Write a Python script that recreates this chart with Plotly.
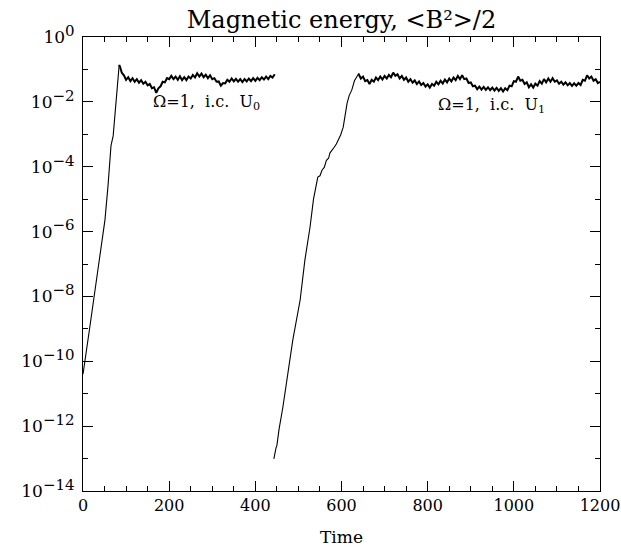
import numpy as np
import plotly.graph_objects as go

# ---------------- data (log10 of magnetic energy) ----------------
u0_time = [0, 3, 5, 15, 25, 35, 45, 51, 58, 65, 70, 75, 79, 82, 84, 86, 90,
           95, 100, 105, 110, 115, 120, 125, 130, 135, 140, 145, 150, 155, 160,
           165, 170, 175, 180, 185, 190, 195, 200, 205, 210, 215, 220, 225, 230,
           235, 240, 245, 250, 255, 260, 265, 270, 275, 280, 285, 290, 295, 300,
           305, 310, 315, 320, 325, 330, 335, 340, 345, 350, 355, 360, 365, 370,
           375, 380, 385, 390, 395, 400, 405, 410, 415, 420, 425, 430, 435, 440, 445]
u0_logE = [-10.4, -10.1, -9.96, -9.02, -8.08, -7.12, -6.2, -5.64, -4.6, -3.35, -3.05,
           -2.3, -1.63, -1.1, -0.86, -0.92, -1.1,
           -1.18, -1.32, -1.24, -1.36, -1.27, -1.38, -1.30, -1.41, -1.33, -1.44,
           -1.38, -1.49, -1.45, -1.58, -1.55, -1.72, -1.58, -1.52, -1.38, -1.40,
           -1.27, -1.30, -1.20, -1.30, -1.22, -1.32, -1.21, -1.33, -1.24, -1.33,
           -1.22, -1.28, -1.17, -1.25, -1.12, -1.22, -1.13, -1.24, -1.16, -1.27,
           -1.18, -1.30, -1.27, -1.38, -1.37, -1.50, -1.42, -1.43, -1.32, -1.38,
           -1.28, -1.37, -1.29, -1.38, -1.30, -1.39, -1.30, -1.37, -1.28, -1.36,
           -1.27, -1.35, -1.26, -1.33, -1.24, -1.31, -1.22, -1.30, -1.20, -1.25, -1.15]

u1_time = [443, 446, 448, 450, 455, 464, 475, 487, 504, 515, 527, 535, 545, 550,
           555, 560, 565, 570, 573, 578, 583, 588, 592, 598, 604, 608, 613, 618,
           624, 630, 634, 638,
           640, 645, 650, 655, 660, 665, 670, 675, 680, 685, 690, 695, 700, 705,
           710, 715, 720, 725, 730, 735, 740, 745, 750, 755, 760, 765, 770, 775,
           780, 785, 790, 795, 800, 805, 810, 815, 820, 825, 830, 835, 840, 845,
           850, 855, 860, 865, 870, 875, 880, 885, 890, 895, 900, 905, 910, 915,
           920, 925, 930, 935, 940, 945, 950, 955, 960, 965, 970, 975, 980, 985,
           990, 995, 1000, 1005, 1010, 1015, 1020, 1025, 1030, 1035, 1040, 1045,
           1050, 1055, 1060, 1065, 1070, 1075, 1080, 1085, 1090, 1095, 1100, 1105,
           1110, 1115, 1120, 1125, 1130, 1135, 1140, 1145, 1150, 1155, 1160, 1165,
           1170, 1175, 1180, 1185, 1190, 1195, 1200]
u1_logE = [-13.01, -12.75, -12.67, -12.6, -12.1, -11.41, -10.4, -9.34, -8.11, -6.88,
           -5.86, -5.0, -4.32, -4.28, -4.10, -4.02, -3.80, -3.74, -3.58, -3.50,
           -3.40, -3.30, -3.18, -3.02, -2.78, -2.4, -2.04, -1.8, -1.63, -1.35, -1.26, -1.17,
           -1.15, -1.28, -1.22, -1.36, -1.33, -1.45, -1.32, -1.38, -1.25, -1.33,
           -1.22, -1.31, -1.20, -1.28, -1.17, -1.24, -1.10, -1.20, -1.15, -1.28,
           -1.20, -1.32, -1.25, -1.38, -1.30, -1.41, -1.34, -1.45, -1.37, -1.48,
           -1.42, -1.53, -1.46, -1.56, -1.45, -1.50, -1.38, -1.46, -1.35, -1.43,
           -1.31, -1.40, -1.28, -1.37, -1.25, -1.33, -1.20, -1.30, -1.18, -1.30,
           -1.28, -1.42, -1.40, -1.52, -1.50, -1.61, -1.53, -1.62, -1.54, -1.63,
           -1.55, -1.64, -1.56, -1.65, -1.57, -1.66, -1.58, -1.68, -1.58, -1.64,
           -1.50, -1.52, -1.36, -1.38, -1.22, -1.35, -1.32, -1.45, -1.40, -1.55,
           -1.46, -1.56, -1.44, -1.50, -1.36, -1.44, -1.30, -1.40, -1.28, -1.38,
           -1.27, -1.38, -1.34, -1.44, -1.38, -1.47, -1.40, -1.49, -1.42, -1.51,
           -1.43, -1.50, -1.42, -1.48, -1.32, -1.35, -1.18, -1.28, -1.22, -1.35,
           -1.30, -1.42, -1.38]

# index where the saturated (noisy) phase starts in each run
u0_sat_start = 14
u1_sat_start = 31

y_major_exp = [0, -2, -4, -6, -8, -10, -12, -14]
y_minor_exp = [-1, -3, -5, -7, -9, -11, -13]
x_major = [0, 200, 400, 600, 800, 1000, 1200]
x_minor = [50, 100, 150, 250, 300, 350, 450, 500, 550, 650, 700, 750,
           850, 900, 950, 1050, 1100, 1150]

title_text = "Magnetic energy, &lt;B²&gt;/2"
label_u0 = "Ω=1,  i.c.  U<sub>0</sub>"
label_u1 = "Ω=1,  i.c.  U<sub>1</sub>"

FONT = "DejaVu Serif"


def add_run(t, logE, k):
    e = 10 ** np.array(logE)
    fig.add_trace(go.Scatter(x=t[:k + 1], y=e[:k + 1], mode="lines",
                             line=dict(color="black", width=1.1), showlegend=False))
    fig.add_trace(go.Scatter(x=t[k:], y=e[k:], mode="lines",
                             line=dict(color="black", width=2.0), showlegend=False))


fig = go.Figure()
add_run(u0_time, u0_logE, u0_sat_start)
add_run(u1_time, u1_logE, u1_sat_start)

fig.add_annotation(x=286, y=-2.02, xref="x", yref="y", text=label_u0, showarrow=False,
                   font=dict(family=FONT, size=16, color="black"))
fig.add_annotation(x=948, y=-2.1, xref="x", yref="y", text=label_u1, showarrow=False,
                   font=dict(family=FONT, size=16, color="black"))

fig.update_layout(
    width=621, height=550,
    margin=dict(l=83, r=21, t=37, b=59, autoexpand=False),
    paper_bgcolor="white", plot_bgcolor="white",
    title=dict(text=title_text, x=0.5, xref="paper", xanchor="center",
               y=1.0, yref="container", yanchor="top", pad=dict(t=11),
               font=dict(family=FONT, size=24, color="black")),
    font=dict(family=FONT, color="black"),
)
fig.update_xaxes(
    range=[0, 1200], showgrid=False, zeroline=False, automargin=False,
    showline=True, linecolor="black", linewidth=1, mirror="ticks",
    ticks="inside", ticklen=10, tickcolor="black", tickwidth=1,
    ticklabeloverflow="allow",
    tickmode="array", tickvals=x_major, ticktext=[str(v) for v in x_major],
    tickfont=dict(family=FONT, size=16, color="black"),
    minor=dict(tickmode="array", tickvals=x_minor, ticks="inside", ticklen=5,
               tickcolor="black", tickwidth=1, showgrid=False),
    title=dict(text="Time", font=dict(family=FONT, size=17, color="black"), standoff=16),
)
fig.update_yaxes(
    type="log", range=[-14, 0], showgrid=False, zeroline=False, automargin=False,
    showline=True, linecolor="black", linewidth=1, mirror="ticks",
    ticks="inside", ticklen=10, tickcolor="black", tickwidth=1,
    ticklabeloverflow="allow", ticklabelstandoff=4,
    tickmode="array", tickvals=[10.0 ** e for e in y_major_exp],
    ticktext=["10<sup><span style='font-size:15px'>%s</span></sup>"
              % (str(e).replace("-", "−")) for e in y_major_exp],
    tickfont=dict(family=FONT, size=17, color="black"),
    minor=dict(tickmode="array", tickvals=[10.0 ** e for e in y_minor_exp],
               ticks="inside", ticklen=5, tickcolor="black", tickwidth=1, showgrid=False),
)

# remove the default 8px page margin so the 621x550 figure fills the window exactly
fig.write_html("out.html",
               config={"displayModeBar": False},
               post_script="document.body.style.margin='0';"
                           "document.documentElement.style.overflow='hidden';")
